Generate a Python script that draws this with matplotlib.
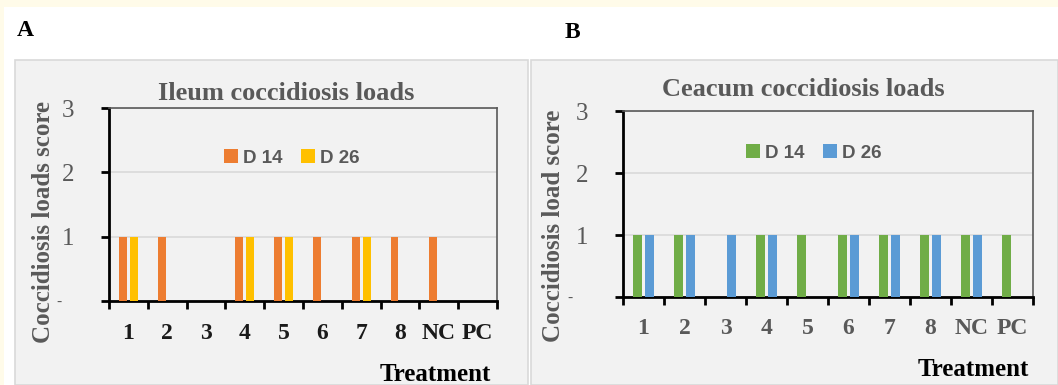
import matplotlib
matplotlib.use("Agg")
import matplotlib.pyplot as plt
from matplotlib.patches import Patch, Rectangle
import numpy as np

treatments = ["1", "2", "3", "4", "5", "6", "7", "8", "NC", "PC"]
ileum_d14 = [1, 1, 0, 1, 1, 1, 1, 1, 1, 0]
ileum_d26 = [1, 0, 0, 1, 1, 0, 1, 0, 0, 0]
ceacum_d14 = [1, 1, 0, 1, 1, 1, 1, 1, 1, 1]
ceacum_d26 = [1, 1, 1, 1, 0, 1, 1, 1, 1, 0]
series_labels = ["D 14", "D 26"]
yticks = [0, 1, 2, 3]
ytick_labels = ["", "1", "2", "3"]

W, H = 1058, 385
serif = "Liberation Serif"
gray = "#595959"

fig = plt.figure(figsize=(W / 100, H / 100), dpi=100)
fig.patch.set_facecolor("white")

# page background strips and the two grey chart areas
fig.patches.append(Rectangle((0, 1 - 7 / H), 1, 7 / H, transform=fig.transFigure,
                             facecolor="#fffbe9", edgecolor="none", zorder=-5))
fig.patches.append(Rectangle((0, 0), 4 / W, 1, transform=fig.transFigure,
                             facecolor="#fffbe9", edgecolor="none", zorder=-5))
for x0, x1 in [(15, 528), (531, 1058)]:
    fig.patches.append(Rectangle((x0 / W, 0), (x1 - x0) / W, 1 - 60 / H,
                                 transform=fig.transFigure, facecolor="#f2f2f2",
                                 edgecolor="#d9d9d9", linewidth=1.2, zorder=-5))


def panel(rect, d14, d26, colors, title, title_xy, ylabel, ylabel_xy, leg_xy,
          xtick_color, width, off, tlabel_xy, letter, letter_xy, pad):
    ax = fig.add_axes(rect)
    ax.set_facecolor("#f2f2f2")
    x = np.arange(len(treatments)) + 0.5
    ax.bar(x - off, d14, width, color=colors[0], zorder=3)
    ax.bar(x + off, d26, width, color=colors[1], zorder=3)
    ax.set_xlim(0, len(treatments))
    ax.set_ylim(0, 3)

    ax.set_xticks(np.arange(len(treatments) + 1))
    ax.set_xticklabels([])
    ax.set_xticks(x, minor=True)
    ax.set_xticklabels(treatments, minor=True, fontfamily=serif, fontweight="bold",
                       fontsize=17, color=xtick_color)
    ax.tick_params(axis="x", which="major", direction="out", length=6, width=2, color="black")
    ax.tick_params(axis="x", which="minor", length=0, pad=pad)

    ax.set_yticks(yticks)
    ax.set_yticklabels(ytick_labels, fontfamily=serif, fontsize=18, color=gray)
    ax.tick_params(axis="y", direction="out", length=6, width=2, color="black", pad=19)
    ax.text(-0.13, -0.02, "-", transform=ax.get_yaxis_transform(), ha="center", va="center",
            fontfamily=serif, fontsize=11, color=gray)

    ax.grid(axis="y", color="#d9d9d9", linewidth=1.2, zorder=0)
    for s in ["left", "bottom"]:
        ax.spines[s].set_color("black")
        ax.spines[s].set_linewidth(2)
    for s in ["top", "right"]:
        ax.spines[s].set_color(gray)
        ax.spines[s].set_linewidth(1.2)

    ax.set_xlabel("Treatment", fontfamily=serif, fontweight="bold", fontsize=18,
                  color="black", ha="right", va="top")
    ax.xaxis.set_label_coords(*tlabel_xy)

    fig.text(title_xy[0] / W, 1 - title_xy[1] / H, title, ha="center", va="center",
             fontfamily=serif, fontweight="bold", fontsize=19, color=gray)
    fig.text(ylabel_xy[0] / W, 1 - ylabel_xy[1] / H, ylabel, ha="center", va="center",
             rotation=90, fontfamily=serif, fontweight="bold", fontsize=18, color=gray)
    fig.text(letter_xy[0] / W, 1 - letter_xy[1] / H, letter, ha="center", va="center",
             fontfamily=serif, fontweight="bold", fontsize=17, color="black")

    handles = [Patch(facecolor=c, edgecolor="none") for c in colors]
    leg = ax.legend(handles, series_labels, loc="center", ncol=2,
                    bbox_to_anchor=(leg_xy[0] / W, 1 - leg_xy[1] / H),
                    bbox_transform=fig.transFigure, frameon=False,
                    handlelength=0.7, handleheight=0.7, handletextpad=0.3,
                    columnspacing=1.0,
                    prop={"family": "Liberation Sans", "weight": "bold", "size": 13.5})
    for t in leg.get_texts():
        t.set_color(gray)
    return ax


panel([109 / W, 1 - 301 / H, 388 / W, 193 / H], ileum_d14, ileum_d26,
      ["#ED7D31", "#FFC000"], "Ileum coccidiosis loads", (286, 93),
      "Coccidiosis loads score", (44, 222), (292, 158), "#1a1a1a",
      0.2, 0.14, (0.985, -0.32), "A", (25, 31), 16)

panel([623 / W, 1 - 297 / H, 410 / W, 186 / H], ceacum_d14, ceacum_d26,
      ["#70AD47", "#5B9BD5"], "Ceacum coccidiosis loads", (803, 90),
      "Coccidiosis load score", (554, 226), (814, 153), gray,
      0.22, 0.15, (0.99, -0.33), "B", (572, 32), 15)

fig.savefig("out.png", dpi=100)
